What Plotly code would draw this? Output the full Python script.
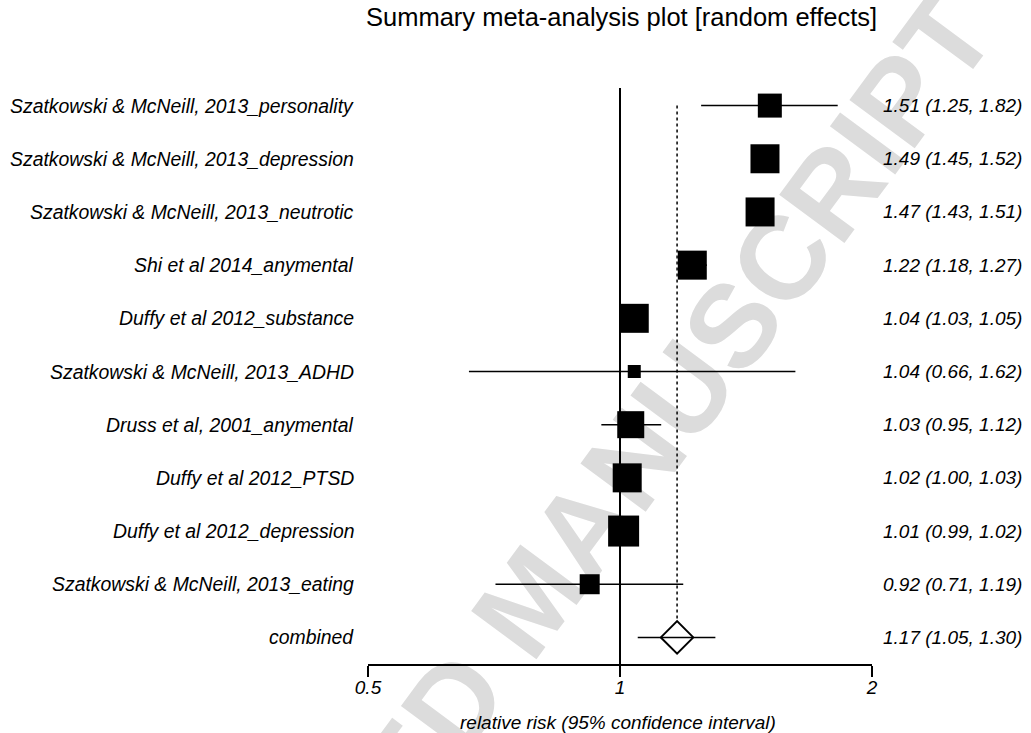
import plotly.graph_objects as go

# ---------------- data ----------------
studies = [
    "Szatkowski & McNeill, 2013_personality",
    "Szatkowski & McNeill, 2013_depression",
    "Szatkowski & McNeill, 2013_neutrotic",
    "Shi et al 2014_anymental",
    "Duffy et al 2012_substance",
    "Szatkowski & McNeill, 2013_ADHD",
    "Druss et al, 2001_anymental",
    "Duffy et al 2012_PTSD",
    "Duffy et al 2012_depression",
    "Szatkowski & McNeill, 2013_eating",
]
rr = [1.51, 1.49, 1.47, 1.22, 1.04, 1.04, 1.03, 1.02, 1.01, 0.92]
ci_low = [1.25, 1.45, 1.43, 1.18, 1.03, 0.66, 0.95, 1.00, 0.99, 0.71]
ci_high = [1.82, 1.52, 1.51, 1.27, 1.05, 1.62, 1.12, 1.03, 1.02, 1.19]
weight_box_px = [24, 29, 29, 29, 29, 13, 27, 29, 31, 20]

combined_label = "combined"
combined_rr = 1.17
combined_low = 1.05
combined_high = 1.30

tick_vals = [0.5, 1, 2]
tick_text = ["0.5", "1", "2"]

title_text = "Summary meta-analysis plot [random effects]"
xaxis_title = "relative risk (95% confidence interval)"
watermark = "ACCEPTED MANUSCRIPT"

# ---------------- figure ----------------
FONT = "Liberation Sans, Arial, sans-serif"
n = len(studies)
rows = list(range(n))
comb_row = n

fig = go.Figure()

# watermark on the (hidden) base axes so it sits beneath the data subplot
fig.add_trace(go.Bar(
    x=[0.3214], y=[0.02], base=[0.101], width=[0.02],
    xaxis="x", yaxis="y",
    marker=dict(color="rgba(0,0,0,0)", line=dict(width=0)),
    text=["<b>" + watermark + "</b>"], textposition="inside", insidetextanchor="middle",
    constraintext="none", textangle=-53.5,
    insidetextfont=dict(size=118, color="#dcdcdc", family=FONT),
    cliponaxis=False, hoverinfo="skip", showlegend=False,
))

# reference line at 1 (no effect)
fig.add_trace(go.Scatter(
    x=[1, 1], y=[-0.33, comb_row + 0.5], xaxis="x2", yaxis="y2",
    mode="lines", line=dict(color="black", width=2),
    hoverinfo="skip", showlegend=False, cliponaxis=False,
))
# dotted line at combined estimate
fig.add_trace(go.Scatter(
    x=[combined_rr, combined_rr], y=[0, comb_row - 0.32], xaxis="x2", yaxis="y2",
    mode="lines", line=dict(color="black", width=1.5, dash="dot"),
    hoverinfo="skip", showlegend=False, cliponaxis=False,
))

# confidence intervals
cx, cy = [], []
for lo_, hi_, r_ in zip(ci_low + [combined_low], ci_high + [combined_high], rows + [comb_row]):
    cx += [lo_, hi_, None]
    cy += [r_, r_, None]
fig.add_trace(go.Scatter(
    x=cx, y=cy, xaxis="x2", yaxis="y2", mode="lines",
    line=dict(color="black", width=1.5), hoverinfo="skip", showlegend=False,
))

# study boxes
fig.add_trace(go.Scatter(
    x=rr, y=rows, xaxis="x2", yaxis="y2", mode="markers",
    marker=dict(symbol="square", size=weight_box_px, color="black",
                opacity=1, line=dict(width=0)),
    hoverinfo="skip", showlegend=False,
))

# combined diamond
fig.add_trace(go.Scatter(
    x=[combined_rr], y=[comb_row], xaxis="x2", yaxis="y2", mode="markers",
    marker=dict(symbol="diamond-open", size=25, color="black", opacity=1,
                line=dict(width=2, color="black")),
    hoverinfo="skip", showlegend=False,
))

annotations = []
all_labels = studies + [combined_label]
all_rr = rr + [combined_rr]
all_lo = ci_low + [combined_low]
all_hi = ci_high + [combined_high]
for i, (lab, r_, lo_, hi_) in enumerate(zip(all_labels, all_rr, all_lo, all_hi)):
    annotations.append(dict(
        x=0, xref="paper", y=i, yref="y2", xanchor="right", yanchor="middle",
        xshift=-12, text=lab, showarrow=False,
        font=dict(family=FONT, size=19.4, color="black", style="italic"),
    ))
    annotations.append(dict(
        x=1, xref="paper", y=i, yref="y2", xanchor="right", yanchor="middle",
        xshift=152, text=f"{r_:.2f} ({lo_:.2f}, {hi_:.2f})", showarrow=False,
        font=dict(family=FONT, size=19, color="black", style="italic"),
    ))

annotations.append(dict(
    x=0.502, xref="paper", y=(664 - 17) / 585, yref="paper",
    xanchor="center", yanchor="middle", text=title_text, showarrow=False,
    font=dict(family=FONT, size=25.5, color="black"),
))
annotations.append(dict(
    x=0.497, xref="paper", y=(664 - 722) / 585, yref="paper",
    xanchor="center", yanchor="middle", text=xaxis_title, showarrow=False,
    font=dict(family=FONT, size=19, color="black", style="italic"),
))

fig.update_layout(
    width=1031, height=733,
    margin=dict(l=368, r=159, t=79, b=69, pad=0),
    paper_bgcolor="white", plot_bgcolor="rgba(0,0,0,0)",
    showlegend=False,
    xaxis=dict(range=[0, 1], visible=False, fixedrange=True),
    yaxis=dict(range=[0, 1], visible=False, fixedrange=True),
    xaxis2=dict(
        type="log", overlaying="x", anchor="y2", side="bottom",
        range=[-0.30103, 0.30103],
        tickvals=tick_vals, ticktext=tick_text,
        ticks="outside", ticklen=11, tickwidth=2, tickcolor="black",
        ticklabelstandoff=-6,
        showline=True, linecolor="black", linewidth=2,
        showgrid=False, zeroline=False,
        tickfont=dict(family=FONT, size=19, color="black", style="italic"),
    ),
    yaxis2=dict(
        overlaying="y", anchor="x2", range=[comb_row + 0.5, -0.5],
        visible=False, showgrid=False, zeroline=False,
    ),
    annotations=annotations,
)

fig.write_html("out.html")
